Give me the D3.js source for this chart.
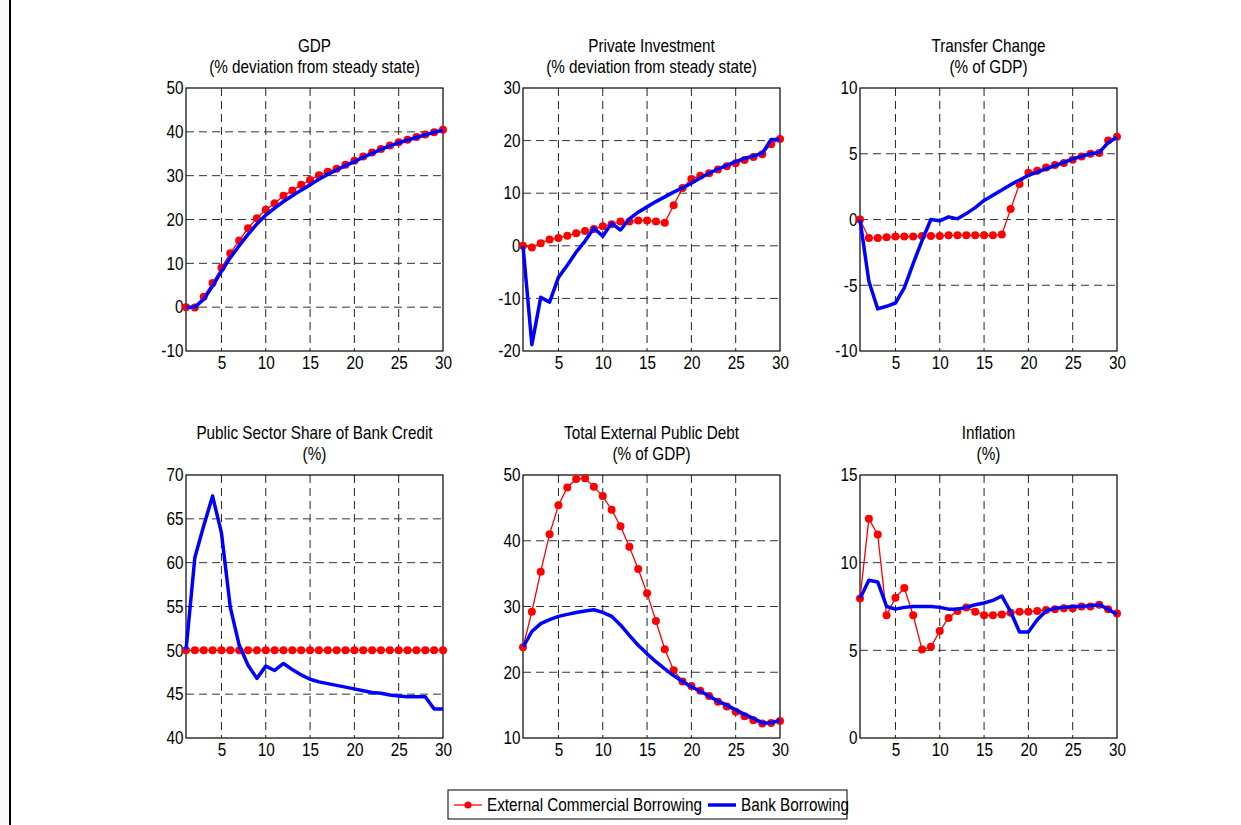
<!DOCTYPE html>
<html>
<head>
<meta charset="utf-8">
<script src="https://cdn.jsdelivr.net/npm/d3@7"></script>
<style>
  body { margin: 0; background: #fff; }
  svg { display: block; font-family: "Liberation Sans", Arial, sans-serif; }
</style>
</head>
<body>
<div id="chart"></div>
<script>
// periods 1..30
var periods = d3.range(1, 31);

var seriesNames = ["External Commercial Borrowing", "Bank Borrowing"];

// GDP (% deviation from steady state)
var gdpECB  = [0, -0.1, 2.4, 5.5, 9.0, 12.3, 15.2, 18.0, 20.3, 22.2, 23.7, 25.4, 26.6, 27.9, 29.0,
               30.1, 30.9, 31.6, 32.5, 33.4, 34.4, 35.3, 36.1, 36.9, 37.6, 38.2, 38.8, 39.4, 39.9, 40.5];
var gdpBank = [0, 0, 1.8, 4.8, 8.2, 11.3, 14.0, 16.6, 19.0, 21.0, 22.6, 24.1, 25.4, 26.7, 27.9,
               29.2, 30.3, 31.3, 32.3, 33.2, 34.2, 35.1, 36.0, 36.8, 37.5, 38.1, 38.7, 39.3, 39.9, 40.4];

// Private investment (% deviation from steady state)
var invECB  = [0, -0.3, 0.5, 1.2, 1.5, 1.9, 2.4, 2.8, 3.2, 3.7, 4.1, 4.6, 4.6, 4.8, 4.8,
               4.6, 4.4, 7.7, 11.0, 12.7, 13.3, 13.8, 14.5, 15.1, 15.7, 16.3, 16.9, 17.4, 19.3, 20.3];
var invBank = [0, -18.8, -9.8, -10.7, -6.0, -3.7, -1.2, 0.9, 3.4, 1.8, 4.3, 3.0, 5.1, 6.4, 7.4,
               8.4, 9.3, 10.2, 11.0, 11.9, 12.9, 13.8, 14.6, 15.3, 16.0, 16.6, 17.1, 17.6, 20.2, 20.2];

// Transfer change (% of GDP)
var trfECB  = [0, -1.4, -1.4, -1.35, -1.3, -1.3, -1.3, -1.25, -1.25, -1.25, -1.2, -1.2, -1.2, -1.2, -1.2,
               -1.2, -1.15, 0.8, 2.7, 3.55, 3.7, 3.95, 4.15, 4.3, 4.55, 4.8, 5.0, 5.05, 6.0, 6.3];
var trfBank = [0, -4.7, -6.8, -6.6, -6.35, -5.2, -3.35, -1.6, 0, -0.1, 0.2, 0.05, 0.45, 0.9, 1.45,
               1.85, 2.25, 2.65, 3.0, 3.35, 3.6, 3.85, 4.1, 4.35, 4.6, 4.8, 5.0, 5.1, 5.85, 6.25];

// Public sector share of bank credit (%)
var shrECB  = [50, 50, 50, 50, 50, 50, 50, 50, 50, 50, 50, 50, 50, 50, 50,
               50, 50, 50, 50, 50, 50, 50, 50, 50, 50, 50, 50, 50, 50, 50];
var shrBank = [50, 60.6, 64.2, 67.6, 63.4, 54.9, 50.6, 48.3, 46.8, 48.2, 47.7, 48.5, 47.8, 47.2, 46.7,
               46.4, 46.2, 46.0, 45.8, 45.6, 45.4, 45.2, 45.1, 44.9, 44.8, 44.7, 44.7, 44.7, 43.3, 43.3];

// Total external public debt (% of GDP)
var debtECB  = [23.8, 29.2, 35.3, 41.0, 45.4, 48.1, 49.4, 49.5, 48.2, 46.8, 44.7, 42.2, 39.1, 35.7, 32.0,
                27.8, 23.5, 20.3, 18.6, 17.9, 17.2, 16.4, 15.5, 14.8, 14.0, 13.3, 12.7, 12.2, 12.3, 12.6];
var debtBank = [23.8, 26.2, 27.4, 28.0, 28.5, 28.8, 29.1, 29.3, 29.5, 29.1, 28.5, 27.2, 25.6, 24.1, 22.8,
                21.6, 20.5, 19.5, 18.6, 17.8, 17.1, 16.4, 15.6, 15.0, 14.3, 13.6, 13.0, 12.3, 12.3, 12.7];

// Inflation (%)
var infECB  = [7.95, 12.5, 11.6, 7.0, 8.0, 8.55, 7.0, 5.05, 5.2, 6.1, 6.85, 7.25, 7.45, 7.2, 7.0,
               7.0, 7.05, 7.15, 7.2, 7.2, 7.25, 7.3, 7.35, 7.4, 7.4, 7.5, 7.5, 7.6, 7.35, 7.1];
var infBank = [7.95, 9.0, 8.9, 7.5, 7.35, 7.45, 7.5, 7.5, 7.5, 7.45, 7.35, 7.35, 7.45, 7.6, 7.7,
               7.85, 8.1, 7.2, 6.05, 6.05, 6.75, 7.25, 7.4, 7.45, 7.5, 7.5, 7.55, 7.6, 7.35, 7.05];

var xTicks = [5, 10, 15, 20, 25, 30];

var panels = [
  {title: ["GDP", "(% deviation from steady state)"], ecb: gdpECB, bank: gdpBank, dom: [-10, 50], yTicks: [-10, 0, 10, 20, 30, 40, 50]},
  {title: ["Private Investment", "(% deviation from steady state)"], ecb: invECB, bank: invBank, dom: [-20, 30], yTicks: [-20, -10, 0, 10, 20, 30]},
  {title: ["Transfer Change", "(% of GDP)"], ecb: trfECB, bank: trfBank, dom: [-10, 10], yTicks: [-10, -5, 0, 5, 10]},
  {title: ["Public Sector Share of Bank Credit", "(%)"], ecb: shrECB, bank: shrBank, dom: [40, 70], yTicks: [40, 45, 50, 55, 60, 65, 70]},
  {title: ["Total External Public Debt", "(% of GDP)"], ecb: debtECB, bank: debtBank, dom: [10, 50], yTicks: [10, 20, 30, 40, 50]},
  {title: ["Inflation", "(%)"], ecb: infECB, bank: infBank, dom: [0, 15], yTicks: [0, 5, 10, 15]}
];

var W = 1241, H = 825;
var pw = 257, ph = 263;
var colX = [186, 523, 860];
var rowY = [88, 475];
var red = "#ff0000", blue = "#0000ff";
var SQ = "scale(0.85,1)";   // the figure font is narrow and tall

var svg = d3.select("#chart").append("svg")
    .attr("width", W).attr("height", H);

// left frame edge
svg.append("rect").attr("x", 0).attr("y", 0).attr("width", 9).attr("height", H).attr("fill", "#f9f9f9");
svg.append("line").attr("x1", 10).attr("x2", 10).attr("y1", 0).attr("y2", H)
    .attr("stroke", "#000").attr("stroke-width", 2);

panels.forEach(function(p, i) {
  var left = colX[i % 3], top = rowY[Math.floor(i / 3)];
  var g = svg.append("g").attr("transform", "translate(" + left + "," + top + ")");

  var x = d3.scaleLinear().domain([1, 30]).range([0, pw]);
  var y = d3.scaleLinear().domain(p.dom).range([ph, 0]);

  // dashed grid
  g.append("g").selectAll("line").data(xTicks.filter(function(t) { return t < 30; }))
    .join("line")
      .attr("x1", function(d) { return x(d); }).attr("x2", function(d) { return x(d); })
      .attr("y1", 0).attr("y2", ph)
      .attr("stroke", "#222").attr("stroke-dasharray", "8,5");
  g.append("g").selectAll("line").data(p.yTicks.slice(1, -1))
    .join("line")
      .attr("y1", function(d) { return y(d); }).attr("y2", function(d) { return y(d); })
      .attr("x1", 0).attr("x2", pw)
      .attr("stroke", "#333").attr("stroke-dasharray", "8,5");

  // axes
  var xa = g.append("g").attr("transform", "translate(0," + ph + ")")
    .call(d3.axisBottom(x).tickValues(xTicks).tickSize(0).tickPadding(5));
  var ya = g.append("g")
    .call(d3.axisLeft(y).tickValues(p.yTicks).tickSize(0).tickPadding(3).tickFormat(function(d) { return String(d); }));
  [xa, ya].forEach(function(a) {
    a.select(".domain").remove();
    a.selectAll("text").attr("font-size", "18px").attr("fill", "#000")
      .attr("font-family", "Liberation Sans, Arial, sans-serif")
      .attr("transform", SQ);
  });

  // box
  g.append("rect").attr("width", pw).attr("height", ph)
    .attr("fill", "none").attr("stroke", "#000").attr("stroke-width", 1.2);

  var line = d3.line()
    .x(function(d, k) { return x(periods[k]); })
    .y(function(d) { return y(d); });

  // red series with markers
  g.append("path").datum(p.ecb).attr("d", line)
    .attr("fill", "none").attr("stroke", red).attr("stroke-width", 1.3);
  g.append("g").selectAll("circle").data(p.ecb).join("circle")
    .attr("cx", function(d, k) { return x(periods[k]); })
    .attr("cy", function(d) { return y(d); })
    .attr("r", 4).attr("fill", red);

  // blue series
  g.append("path").datum(p.bank).attr("d", line)
    .attr("fill", "none").attr("stroke", blue).attr("stroke-width", 3.5)
    .attr("stroke-linejoin", "round");

  // title
  var t = g.append("g").attr("transform", "translate(" + (pw / 2) + ",0)")
    .append("text").attr("text-anchor", "middle").attr("font-size", "18px")
    .attr("fill", "#000").attr("transform", SQ);
  t.append("tspan").attr("x", 0).attr("y", -36).text(p.title[0]);
  t.append("tspan").attr("x", 0).attr("y", -15).text(p.title[1]);
});

// legend
var lg = svg.append("g").attr("transform", "translate(448,790)");
lg.append("rect").attr("width", 399).attr("height", 29)
  .attr("fill", "#fff").attr("stroke", "#000").attr("stroke-width", 1);
lg.append("line").attr("x1", 6).attr("x2", 34).attr("y1", 15).attr("y2", 15)
  .attr("stroke", red).attr("stroke-width", 1.3);
lg.append("circle").attr("cx", 20).attr("cy", 15).attr("r", 3.5).attr("fill", red);
lg.append("g").attr("transform", "translate(39,21)")
  .append("text").attr("font-size", "18px").attr("transform", SQ).text(seriesNames[0]);
lg.append("line").attr("x1", 260).attr("x2", 288).attr("y1", 15).attr("y2", 15)
  .attr("stroke", blue).attr("stroke-width", 3.5);
lg.append("g").attr("transform", "translate(293,21)")
  .append("text").attr("font-size", "18px").attr("transform", SQ).text(seriesNames[1]);
</script>
</body>
</html>
